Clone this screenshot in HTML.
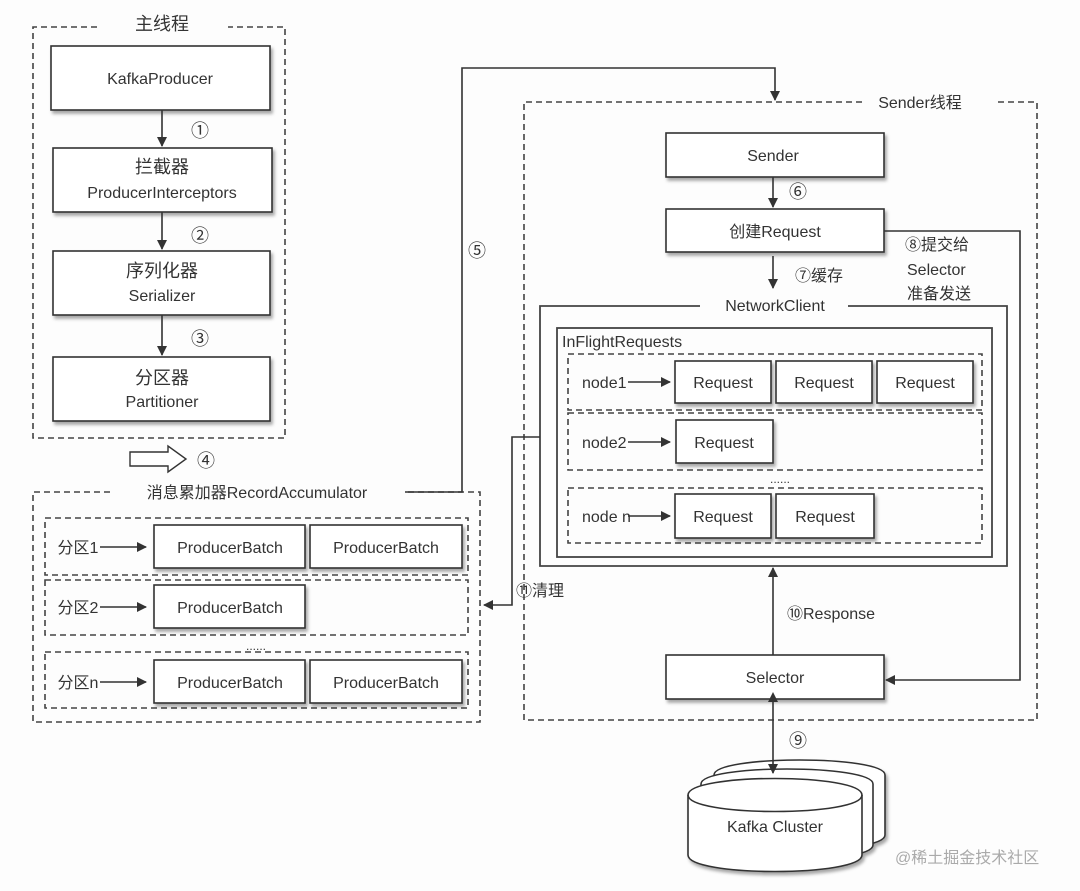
<!DOCTYPE html>
<html><head><meta charset="utf-8"><style>
html,body{margin:0;padding:0;background:#fdfdfd;}
svg{display:block;}
text{font-family:"Liberation Sans","Noto Sans CJK SC",sans-serif;fill:#333;}
</style></head><body>
<svg width="1080" height="891" viewBox="0 0 1080 891" xmlns="http://www.w3.org/2000/svg">
<defs>
<marker id="ah" markerWidth="10" markerHeight="10" refX="9" refY="5" orient="auto" markerUnits="userSpaceOnUse">
<path d="M0,0 L10,5 L0,10 z" fill="#333"/></marker>
<marker id="ahs" markerWidth="10" markerHeight="10" refX="1" refY="5" orient="auto-start-reverse" markerUnits="userSpaceOnUse">
<path d="M0,0 L10,5 L0,10 z" fill="#333"/></marker>
<filter id="sh" x="-5%" y="-5%" width="115%" height="130%"><feDropShadow dx="2" dy="3" stdDeviation="1.5" flood-color="#000" flood-opacity="0.35"/></filter>
</defs>
<!-- cylinders -->
<g stroke="#333" stroke-width="1.6" fill="#fff" filter="url(#sh)">
<path d="M714,775 C714,755 885,755 885,775 V835 C885,855 714,855 714,835 Z"/>
<path d="M701,784 C701,764 873,764 873,784 V845 C873,865 701,865 701,845 Z"/>
<path d="M688,795 C688,773 862,773 862,795 V855 C862,877 688,877 688,855 Z"/>
<path d="M688,795 C688,817 862,817 862,795" fill="none"/>
</g>
<g fill="none" stroke="#444" stroke-width="1.6">
<path d="M97,27 H33 V438 H285 V27 H228" stroke-dasharray="6,4"/>
<path d="M110,492 H33 V722 H480 V492 H405" stroke-dasharray="6,4"/>
<path d="M45,518 H468 V575 H45 Z" stroke-dasharray="6,4"/>
<path d="M45,580 H468 V635 H45 Z" stroke-dasharray="6,4"/>
<path d="M45,652 H468 V708 H45 Z" stroke-dasharray="6,4"/>
<path d="M862,102 H524 V720 H1037 V102 H995" stroke-dasharray="6,4"/>
<path d="M700,306 H540 V566 H1007 V306 H848" stroke-width="1.8"/>
<rect x="557" y="328" width="435" height="229" stroke-width="1.8"/>
<rect x="568" y="354" width="414" height="56" stroke-dasharray="6,4"/>
<rect x="568" y="413" width="414" height="57" stroke-dasharray="6,4"/>
<rect x="568" y="488" width="414" height="55" stroke-dasharray="6,4"/>
</g>
<g fill="#fff" stroke="#333" stroke-width="1.6" filter="url(#sh)">
<rect x="51" y="46" width="219" height="64"/>
<rect x="53" y="148" width="219" height="64"/>
<rect x="53" y="251" width="217" height="64"/>
<rect x="53" y="357" width="217" height="64"/>
<rect x="154" y="525" width="151" height="43"/>
<rect x="310" y="525" width="152" height="43"/>
<rect x="154" y="585" width="151" height="43"/>
<rect x="154" y="660" width="151" height="43"/>
<rect x="310" y="660" width="152" height="43"/>
<rect x="666" y="133" width="218" height="44"/>
<rect x="666" y="209" width="218" height="43"/>
<rect x="675" y="361" width="96" height="42"/>
<rect x="776" y="361" width="96" height="42"/>
<rect x="877" y="361" width="96" height="42"/>
<rect x="676" y="420" width="97" height="43"/>
<rect x="675" y="494" width="96" height="44"/>
<rect x="776" y="494" width="98" height="44"/>
<rect x="666" y="655" width="218" height="44"/>
</g>
<g fill="none" stroke="#333" stroke-width="1.6">
<line x1="162" y1="110" x2="162" y2="146" marker-end="url(#ah)"/>
<line x1="162" y1="212" x2="162" y2="249" marker-end="url(#ah)"/>
<line x1="162" y1="315" x2="162" y2="355" marker-end="url(#ah)"/>
<path d="M405,492 H462 V68 H775 V100" marker-end="url(#ah)"/>
<line x1="773" y1="177" x2="773" y2="207" marker-end="url(#ah)"/>
<line x1="773" y1="256" x2="773" y2="288" marker-end="url(#ah)"/>
<path d="M884,231 H1020 V680 H886" marker-end="url(#ah)"/>
<path d="M540,437 H512 V605 H484" marker-end="url(#ah)"/>
<line x1="773" y1="655" x2="773" y2="568" marker-end="url(#ah)"/>
<line x1="773" y1="701" x2="773" y2="773" marker-start="url(#ahs)" marker-end="url(#ah)"/>
<line x1="100" y1="547" x2="146" y2="547" marker-end="url(#ah)"/>
<line x1="100" y1="607" x2="146" y2="607" marker-end="url(#ah)"/>
<line x1="100" y1="682" x2="146" y2="682" marker-end="url(#ah)"/>
<line x1="628" y1="382" x2="670" y2="382" marker-end="url(#ah)"/>
<line x1="628" y1="442" x2="670" y2="442" marker-end="url(#ah)"/>
<line x1="628" y1="516" x2="670" y2="516" marker-end="url(#ah)"/>
<path d="M130,452 H168 V446 L186,459 L168,472 V466 H130 Z" stroke-width="1.4" fill="#fff"/>
</g>
<g font-size="16" text-anchor="middle">
<text x="162" y="30" font-size="18">主线程</text>
<text x="160" y="84">KafkaProducer</text>
<text x="162" y="173" font-size="18">拦截器</text>
<text x="162" y="198">ProducerInterceptors</text>
<text x="162" y="277" font-size="18">序列化器</text>
<text x="162" y="301">Serializer</text>
<text x="162" y="384" font-size="18">分区器</text>
<text x="162" y="407">Partitioner</text>
<text x="200" y="137" font-size="18">①</text>
<text x="200" y="242" font-size="18">②</text>
<text x="200" y="345" font-size="18">③</text>
<text x="206" y="467" font-size="18">④</text>
<text x="477" y="257" font-size="18">⑤</text>
<text x="257" y="498">消息累加器RecordAccumulator</text>
<text x="230" y="553">ProducerBatch</text>
<text x="386" y="553">ProducerBatch</text>
<text x="230" y="613">ProducerBatch</text>
<text x="230" y="688">ProducerBatch</text>
<text x="386" y="688">ProducerBatch</text>
<text x="256" y="650" font-size="12">......</text>
<text x="78" y="553">分区1</text>
<text x="78" y="613">分区2</text>
<text x="78" y="688">分区n</text>
<text x="920" y="108">Sender线程</text>
<text x="773" y="161">Sender</text>
<text x="775" y="237">创建Request</text>
<text x="798" y="198" font-size="18">⑥</text>
<text x="775" y="311">NetworkClient</text>
<text x="723" y="388">Request</text>
<text x="824" y="388">Request</text>
<text x="925" y="388">Request</text>
<text x="724" y="448">Request</text>
<text x="723" y="522">Request</text>
<text x="825" y="522">Request</text>
<text x="780" y="483" font-size="12">......</text>
<text x="775" y="683">Selector</text>
<text x="775" y="832">Kafka Cluster</text>
<text x="798" y="747" font-size="18">⑨</text>
</g>
<g font-size="16">
<text x="795" y="281">⑦缓存</text>
<text x="905" y="250">⑧提交给</text>
<text x="907" y="275">Selector</text>
<text x="907" y="299">准备发送</text>
<text x="562" y="347">InFlightRequests</text>
<text x="582" y="388">node1</text>
<text x="582" y="448">node2</text>
<text x="582" y="522">node n</text>
<text x="516" y="596">⑪清理</text>
<text x="787" y="619">⑩Response</text>
<text x="895" y="863" style="fill:#aaa">@稀土掘金技术社区</text>
</g>
</svg>
</body></html>
